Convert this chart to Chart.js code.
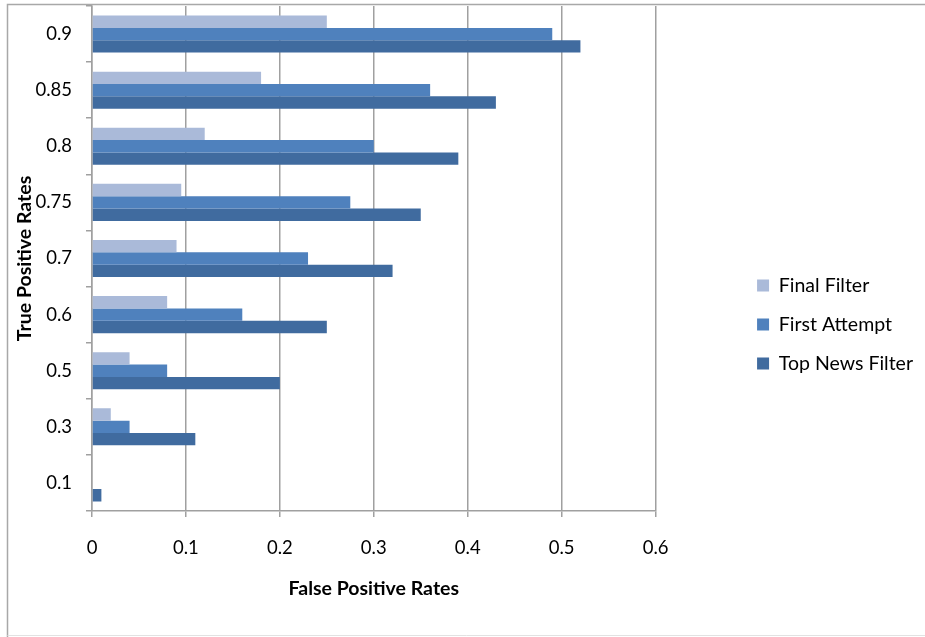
<!DOCTYPE html>
<html>
<head>
<meta charset="utf-8">
<script src="https://cdn.jsdelivr.net/npm/chart.js@4.4.1/dist/chart.umd.min.js"></script>
<style>
  html, body { margin: 0; padding: 0; background: #ffffff; }
  #wrap { width: 925px; height: 637px; position: relative; }
</style>
</head>
<body>
<div id="wrap"><canvas id="chart" width="925" height="637"></canvas></div>
<script>
// True positive rate buckets (category axis, top to bottom)
const truePositiveRates = ['0.9', '0.85', '0.8', '0.75', '0.7', '0.6', '0.5', '0.3', '0.1'];

// False positive rate reached by each filter at that true positive rate
const finalFilter   = [0.25, 0.18, 0.12, 0.095, 0.09, 0.08, 0.04, 0.02, 0];
const firstAttempt  = [0.49, 0.36, 0.30, 0.275, 0.23, 0.16, 0.08, 0.04, 0];
const topNewsFilter = [0.52, 0.43, 0.39, 0.35, 0.32, 0.25, 0.20, 0.11, 0.01];

const seriesNames = ['Final Filter', 'First Attempt', 'Top News Filter'];
const xTicks = [0, 0.1, 0.2, 0.3, 0.4, 0.5, 0.6];

const FONT = 'Lato, "Open Sans", sans-serif';
const GRID = '#a0a0a0';

// Thin outer frame around the figure
const framePlugin = {
  id: 'frame',
  beforeDraw(chart) {
    const ctx = chart.ctx;
    ctx.save();
    ctx.strokeStyle = '#a8a8a8';
    ctx.lineWidth = 1.5;
    ctx.beginPath();
    ctx.moveTo(925, 4.5);
    ctx.lineTo(7.5, 4.5);
    ctx.lineTo(7.5, 637);
    ctx.stroke();
    ctx.strokeStyle = '#e2e2e2';
    ctx.lineWidth = 1;
    ctx.beginPath();
    ctx.moveTo(7.5, 635.5);
    ctx.lineTo(925, 635.5);
    ctx.stroke();
    ctx.restore();
  }
};

// vertical axes should not reserve extra room for half-height labels
function noVerticalPadding(scale) {
  scale.paddingTop = 0;
  scale.paddingBottom = 0;
}

new Chart(document.getElementById('chart'), {
  type: 'bar',
  data: {
    labels: truePositiveRates,
    datasets: [
      { label: seriesNames[0], data: finalFilter,   backgroundColor: '#aabad9' },
      { label: seriesNames[1], data: firstAttempt,  backgroundColor: '#4f81bd' },
      { label: seriesNames[2], data: topNewsFilter, backgroundColor: '#406b9f' }
    ]
  },
  options: {
    indexAxis: 'y',
    responsive: false,
    animation: false,
    devicePixelRatio: 1,
    layout: { padding: { top: 6, left: 0, right: 2, bottom: 0 } },
    datasets: {
      bar: {
        categoryPercentage: 0.66,
        barPercentage: 1.0,
        borderWidth: 0,
        borderSkipped: false
      }
    },
    scales: {
      x: {
        type: 'linear',
        min: 0,
        max: 0.6,
        afterBuildTicks(scale) {
          scale.ticks = xTicks.map(v => ({ value: v }));
        },
        afterFit(scale) { scale.height = 126; },
        grid: {
          color: GRID,
          lineWidth: 1.5,
          tickLength: 6,
          drawTicks: true
        },
        border: { display: true, color: GRID, width: 1.5 },
        ticks: {
          padding: 20,
          color: '#000000',
          font: { family: FONT, size: 18.5 },
          callback: (v) => String(v)
        },
        title: {
          display: true,
          text: 'False Positive Rates',
          color: '#000000',
          font: { family: FONT, size: 19.5, weight: 'bold' },
          padding: { top: 0, bottom: 37 }
        }
      },
      y: {
        type: 'category',
        afterFit(scale) { scale.width = 92; noVerticalPadding(scale); },
        grid: {
          display: true,
          offset: true,
          drawOnChartArea: false,
          drawTicks: true,
          tickLength: 6,
          color: GRID,
          lineWidth: 1.5
        },
        border: { display: true, color: GRID, width: 1.5 },
        ticks: {
          padding: 14,
          color: '#000000',
          font: { family: FONT, size: 18.5 }
        },
        title: {
          display: true,
          text: 'True Positive Rates',
          color: '#000000',
          font: { family: FONT, size: 19.5, weight: 'bold' },
          padding: { top: 13, bottom: 0 }
        }
      },
      // empty spacer between the plot and the legend
      gap: {
        type: 'linear',
        axis: 'y',
        position: 'right',
        display: true,
        afterFit(scale) { scale.width = 82; noVerticalPadding(scale); },
        grid: { display: false, drawOnChartArea: false },
        border: { display: false },
        ticks: { display: false }
      }
    },
    plugins: {
      legend: {
        position: 'right',
        align: 'center',
        maxWidth: 300,
        // blank header line nudges the entries slightly lower
        title: { display: true, text: '', padding: 0, font: { size: 5 } },
        labels: {
          boxWidth: 12,
          boxHeight: 12,
          padding: 19.5,
          color: '#000000',
          font: { family: FONT, size: 19.5 }
        }
      },
      tooltip: { enabled: false }
    }
  },
  plugins: [framePlugin]
});
</script>
</body>
</html>
